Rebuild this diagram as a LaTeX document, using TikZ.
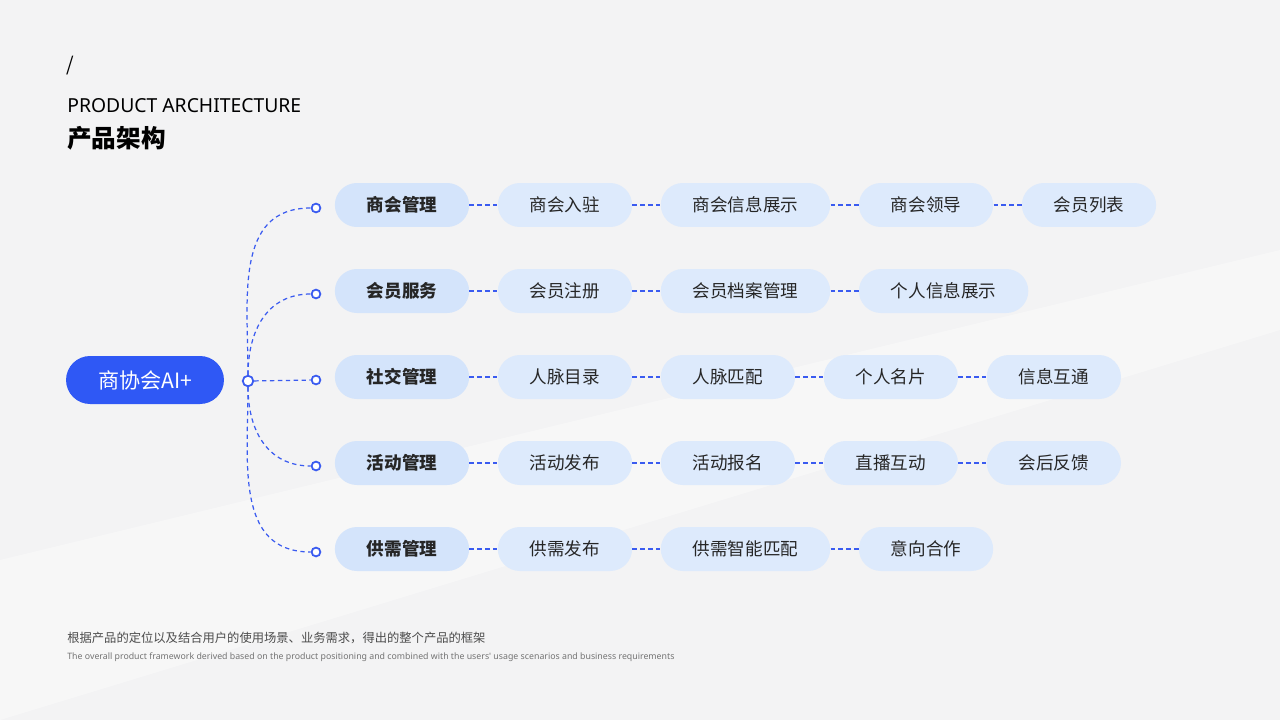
\documentclass[tikz,border=0pt]{standalone}
\usepackage{fontspec}
\setmainfont{Noto Sans CJK SC}
\newfontfamily\latinfont{Noto Sans}
\usetikzlibrary{positioning}
\definecolor{bgc}{HTML}{F3F3F4}
\definecolor{rootc}{HTML}{2F58F5}
\definecolor{catc}{HTML}{D4E4FB}
\definecolor{itemc}{HTML}{DDEAFC}
\definecolor{linec}{HTML}{3A5BF0}
\tikzset{
	pill/.style={rounded corners=0.44cm, minimum height=0.88cm, minimum width=2.68cm,
		inner xsep=0.64cm, font=\fontsize{10}{12}\selectfont, text=black!85},
	catbox/.style={pill, fill=catc, font=\fontsize{10}{12}\selectfont\bfseries},
	itembox/.style={pill, fill=itemc},
	link/.style={draw=linec, dash pattern=on 2.5pt off 2pt, line width=0.7pt},
	dot/.style={circle, draw=linec, fill=white, line width=1pt, inner sep=0pt, minimum size=5pt}
}
\begin{document}
\begin{tikzpicture}[x=0.02cm, y=-0.02cm, node distance=0.56cm]
	\fill[bgc] (0,0) rectangle (1280,720);
	\fill[white, opacity=0.35] (0,560) -- (1280,250) -- (1280,330) -- (0,720) -- cycle;
	\useasboundingbox (0,0) rectangle (1280,720);

	% Titel
	\node[anchor=west, inner sep=0, font=\fontsize{11}{13}\selectfont] (slash) at (66,66) {/};
	\node[anchor=west, inner sep=0, font=\latinfont\fontsize{11}{13}\selectfont] (en) at (67,106) {PRODUCT ARCHITECTURE};
	\node[anchor=west, inner sep=0, font=\fontsize{14}{16}\selectfont\bfseries] (zh) at (67,138) {产品架构};

	% Wurzel
	\node[pill, fill=rootc, text=white, minimum width=3.12cm, minimum height=0.96cm,
		rounded corners=0.48cm, font=\fontsize{12}{14}\selectfont] (root) at (145,380) {商协会AI+};
	\node[dot, minimum size=6pt] (hub) at (248,381) {};

	% Zeilen
	\foreach \y/\n/\cat/\items in {
		205/r1/商会管理/{商会入驻,商会信息展示,商会领导,会员列表},
		291/r2/会员服务/{会员注册,会员档案管理,个人信息展示},
		377/r3/社交管理/{人脉目录,人脉匹配,个人名片,信息互通},
		463/r4/活动管理/{活动发布,活动报名,直播互动,会后反馈},
		549/r5/供需管理/{供需发布,供需智能匹配,意向合作}} {
		\node[catbox] (\n-0) at (402,\y) {\cat};
		\node[dot] (\n-dot) at (316,\y+3) {};
		\foreach \t [count=\i, remember=\i as \j (initially 0)] in \items {
			\node[itembox, right=of \n-\j] (\n-\i) {\t};
			\draw[link] (\n-\j) -- (\n-\i);
		}
	}
	\draw[link] (hub) to[out=90, in=180, looseness=1.1] (r1-dot);
	\draw[link] (hub) to[out=90, in=180, looseness=1.1] (r2-dot);
	\draw[link] (hub) -- (r3-dot);
	\draw[link] (hub) to[out=-90, in=180, looseness=1.1] (r4-dot);
	\draw[link] (hub) to[out=-90, in=180, looseness=1.1] (r5-dot);

	% Fusszeile
	\node[anchor=west, inner sep=0, font=\fontsize{7}{9}\selectfont, text=black!70] (note) at (67,638) {根据产品的定位以及结合用户的使用场景、业务需求，得出的整个产品的框架};
	\node[anchor=west, inner sep=0, font=\latinfont\fontsize{5}{6}\selectfont, text=black!55] (noteen) at (67,657) {The overall product framework derived based on the product positioning and combined with the users' usage scenarios and business requirements};
\end{tikzpicture}
\end{document}
